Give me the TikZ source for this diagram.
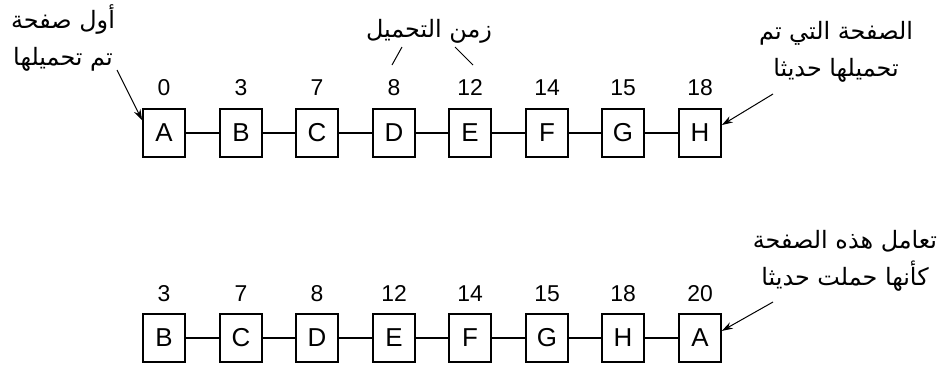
\documentclass[tikz,border=0pt]{standalone}
\usepackage{fontspec}
\setmainfont{Liberation Sans}
\newfontfamily\arabicfont[Script=Arabic]{DejaVu Sans}
\TeXXeTstate=1
\usetikzlibrary{arrows.meta}

\tikzset{
  pagebox/.style={draw, line width=1.7bp, minimum width=42bp, minimum height=48bp, inner sep=0pt, font=\fontsize{26}{30}\selectfont},
  stamp/.style={inner sep=0pt, anchor=base, font=\fontsize{23}{26}\selectfont},
  note/.style={align=center, inner sep=0pt, font=\arabicfont\fontsize{24}{37}\selectfont},
  link/.style={line width=1.4bp},
  pointer/.style={line width=1bp, -{Stealth[length=11bp,width=7bp]}},
}

\begin{document}
\begin{tikzpicture}[x=1bp, y=-1bp]
    \useasboundingbox (0,0) rectangle (944,369);

    % top row: pages in load order
    \node[pagebox] (tA) at (164,133) {A};
    \node[pagebox] (tB) at (241,133) {B};
    \node[pagebox] (tC) at (317,133) {C};
    \node[pagebox] (tD) at (394,133) {D};
    \node[pagebox] (tE) at (470,133) {E};
    \node[pagebox] (tF) at (547,133) {F};
    \node[pagebox] (tG) at (623,133) {G};
    \node[pagebox] (tH) at (700,133) {H};
    \node[stamp] (ntA) at (164,95) {0};
    \node[stamp] (ntB) at (241,95) {3};
    \node[stamp] (ntC) at (317,95) {7};
    \node[stamp] (ntD) at (394,95) {8};
    \node[stamp] (ntE) at (470,95) {12};
    \node[stamp] (ntF) at (547,95) {14};
    \node[stamp] (ntG) at (623,95) {15};
    \node[stamp] (ntH) at (700,95) {18};
    \draw[link] (tA) -- (tB) (tB) -- (tC) (tC) -- (tD) (tD) -- (tE)
                (tE) -- (tF) (tF) -- (tG) (tG) -- (tH);

    % bottom row: A moved to the end
    \node[pagebox] (bB) at (164,338) {B};
    \node[pagebox] (bC) at (241,338) {C};
    \node[pagebox] (bD) at (317,338) {D};
    \node[pagebox] (bE) at (394,338) {E};
    \node[pagebox] (bF) at (470,338) {F};
    \node[pagebox] (bG) at (547,338) {G};
    \node[pagebox] (bH) at (623,338) {H};
    \node[pagebox] (bA) at (700,338) {A};
    \node[stamp] (nbB) at (164,301) {3};
    \node[stamp] (nbC) at (241,301) {7};
    \node[stamp] (nbD) at (317,301) {8};
    \node[stamp] (nbE) at (394,301) {12};
    \node[stamp] (nbF) at (470,301) {14};
    \node[stamp] (nbG) at (547,301) {15};
    \node[stamp] (nbH) at (623,301) {18};
    \node[stamp] (nbA) at (700,301) {20};
    \draw[link] (bB) -- (bC) (bC) -- (bD) (bD) -- (bE) (bE) -- (bF)
                (bF) -- (bG) (bG) -- (bH) (bH) -- (bA);

    % notes
    \node[note] (first) at (63,38) {\beginR أول صفحة\endR\\\beginR تم تحميلها\endR};
    \node[note] (loadtime) at (429,31) {\beginR زمن التحميل\endR};
    \node[note] (newest) at (836,52) {\beginR الصفحة التي تم\endR\\\beginR تحميلها حديثا\endR};
    \node[note] (treat) at (845,261) {\beginR تعامل هذه الصفحة\endR\\\beginR كأنها حملت حديثا\endR};

    \coordinate (firstend) at (117,70);
    \coordinate (newestend) at (773,94);
    \coordinate (treatend) at (773,302);
    \draw[pointer] (firstend) -- (tA.150);
    \draw[pointer] (newestend) -- (tH.20);
    \draw[pointer] (treatend) -- (bA.18);

    \coordinate (tick1a) at (402,47);
    \coordinate (tick1b) at (392,65);
    \coordinate (tick2a) at (455,47);
    \coordinate (tick2b) at (473,65);
    \draw[line width=1bp] (tick1a) -- (tick1b);
    \draw[line width=1bp] (tick2a) -- (tick2b);
\end{tikzpicture}
\end{document}
